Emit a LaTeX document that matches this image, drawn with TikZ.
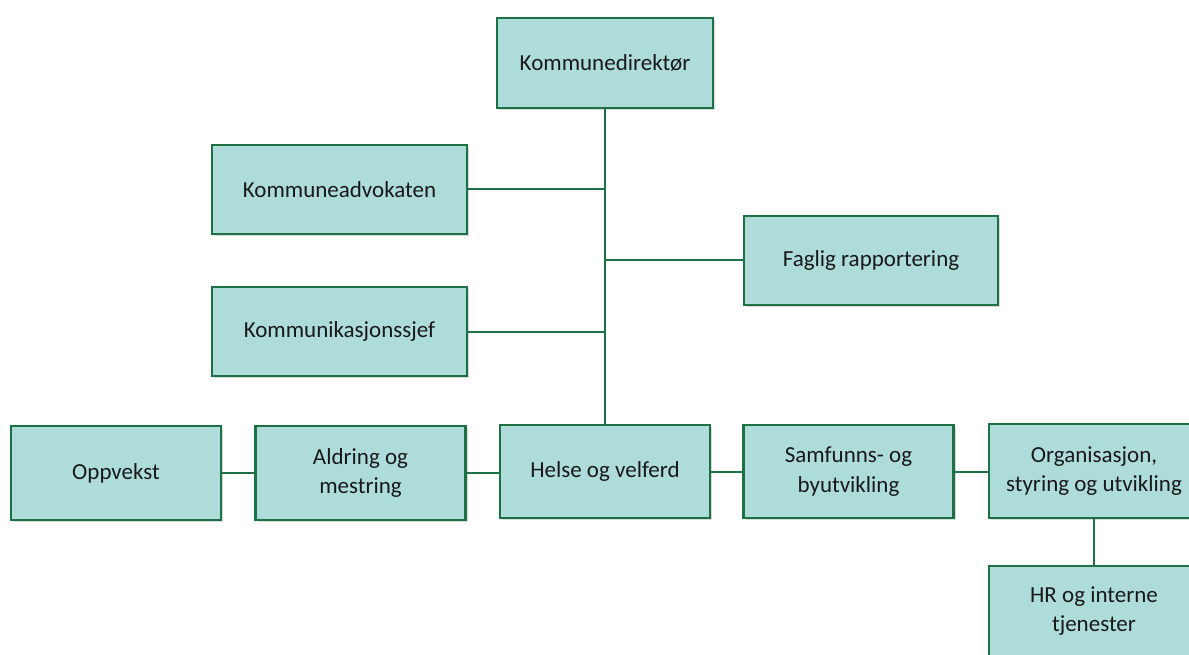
\documentclass[tikz,border=0pt]{standalone}
\usepackage{fontspec}
\setmainfont{Carlito}
\usetikzlibrary{shadows}
\definecolor{boxfill}{HTML}{AEDCDB}
\definecolor{boxline}{HTML}{1E7145}
\begin{document}
\begin{tikzpicture}[x=1pt,y=-1pt,
  orgbox/.style={draw=boxline, line width=2.2pt, fill=boxfill, minimum width=#1, inner sep=0pt, align=center,
    font=\fontsize{23}{29.5}\selectfont, text=black!90,
    drop shadow={shadow xshift=2pt, shadow yshift=-2pt, opacity=0.25, fill=black!60}},
  orgbox/.default=210pt,
  link/.style={draw=boxline, line width=2pt}]
\useasboundingbox (0,0) rectangle (1189,655);
\node[orgbox=216pt, minimum height=90pt] (kd) at (605,63) {Kommunedirektør};
\node[orgbox=255pt, minimum height=89pt] (ka) at (339.5,189.5) {Kommuneadvokaten};
\node[orgbox=254pt, minimum height=89pt] (fr) at (871,260.5) {Faglig rapportering};
\node[orgbox=255pt, minimum height=89pt] (ks) at (339.5,331.5) {Kommunikasjonssjef};
\node[orgbox, minimum height=94pt] (op) at (116,473) {Oppvekst};
\node[orgbox, minimum height=94pt] (am) at (360.5,473) {Aldring og\\mestring};
\node[orgbox, minimum height=93pt] (hv) at (605,471.5) {Helse og velferd};
\node[orgbox, minimum height=93pt] (sb) at (848.5,471.5) {Samfunns- og\\byutvikling};
\node[orgbox, minimum height=94pt] (os) at (1094,471) {Organisasjon,\\styring og utvikling};
\node[orgbox, minimum height=90pt] (hr) at (1094,611) {HR og interne\\tjenester};
\coordinate (j1) at (605,189.5);
\coordinate (j2) at (605,260.5);
\coordinate (j3) at (605,331.5);
\draw[link] (kd.south) -- (hv.north);
\draw[link] (ka.east) -- (j1);
\draw[link] (fr.west) -- (j2);
\draw[link] (ks.east) -- (j3);
\draw[link] (op.east) -- (am.west);
\draw[link] (am.east) -- (am.east -| hv.west);
\draw[link] (hv.east) -- (sb.west);
\draw[link] (sb.east) -- (sb.east -| os.west);
\draw[link] (os.south) -- (hr.north);
\end{tikzpicture}
\end{document}
